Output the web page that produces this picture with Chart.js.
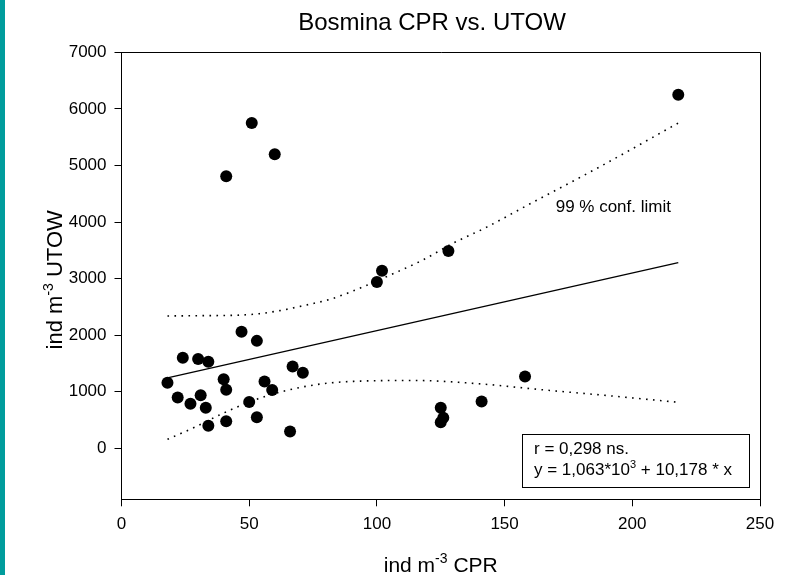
<!DOCTYPE html>
<html><head><meta charset="utf-8">
<script src="https://cdn.jsdelivr.net/npm/chart.js@4.4.0/dist/chart.umd.min.js"></script>
<style>
html,body{margin:0;padding:0;background:#fff;}
#wrap{position:relative;width:791px;height:575px;overflow:hidden;}
#strip{position:absolute;left:0;top:0;width:5px;height:575px;background:#009c9c;}
canvas{position:absolute;left:0;top:0;}
</style></head><body>
<div id="wrap"><canvas id="c" width="791" height="575"></canvas><div id="strip"></div></div>
<script>
// ---- data ----
const chartTitle = 'Bosmina CPR vs. UTOW';
const xTitleParts = ['ind m', '-3', ' CPR'];
const yTitleParts = ['ind m', '-3', ' UTOW'];
const cprValues  = [18, 22, 24, 27, 30, 31, 33, 34, 34, 40, 41, 41, 41, 47, 50, 51, 53, 53, 56, 59, 60, 66, 67, 71, 100, 102, 125, 125, 126, 128, 141, 158, 218];
const utowValues = [1160, 900, 1600, 790, 1580, 940, 720, 1530, 400, 1220, 1035, 480, 4810, 2060, 820, 5750, 1900, 550, 1180, 1030, 5200, 300, 1445, 1335, 2940, 3140, 720, 460, 540, 3490, 830, 1270, 6250];
const regLineX = [18, 218];
const regLineY = [1246, 3282];
const upperLimitX = [18, 31, 46, 54, 62, 71, 82, 90, 105, 118, 130, 143, 158, 187, 218];
const upperLimitY = [2340, 2345, 2355, 2380, 2435, 2520, 2640, 2770, 3060, 3330, 3630, 3910, 4275, 4970, 5750];
const lowerLimitX = [18, 28, 40, 53, 63, 76, 91, 115, 139, 165, 191, 218];
const lowerLimitY = [160, 360, 625, 870, 1005, 1125, 1185, 1200, 1145, 1035, 930, 815];
const xTickValues = [0, 50, 100, 150, 200, 250];
const yTickValues = [0, 1000, 2000, 3000, 4000, 5000, 6000, 7000];
const confLabel = '99 % conf. limit';
const statLine1 = 'r = 0,298 ns.';
const statLine2Parts = ['y = 1,063*10', '3', ' + 10,178 * x'];

const FONT = "'Liberation Sans', Arial, Helvetica, sans-serif";
const pts = (xs, ys) => xs.map((v, i) => ({x: v, y: ys[i]}));

function drawParts(ctx, parts, x, y, bigSize, smallSize, rise, align) {
  const widths = parts.map((p, i) => {
    ctx.font = (i === 1 ? smallSize : bigSize) + 'px ' + FONT;
    return ctx.measureText(p).width;
  });
  const total = widths.reduce((a, b) => a + b, 0);
  let cx = align === 'center' ? x - total / 2 : x;
  ctx.textAlign = 'left';
  ctx.textBaseline = 'alphabetic';
  parts.forEach((p, i) => {
    ctx.font = (i === 1 ? smallSize : bigSize) + 'px ' + FONT;
    ctx.fillText(p, cx, i === 1 ? y - rise : y);
    cx += widths[i];
  });
}

const decor = {
  id: 'decor',
  afterLayout(chart) {
    // centre the title over the same span as the reference
    if (chart.titleBlock) { chart.titleBlock.left = 104; }
  },
  afterDraw(chart) {
    const {ctx, chartArea: a, scales: {x, y}} = chart;
    ctx.save();
    ctx.strokeStyle = '#000';
    ctx.lineWidth = 1;
    // top and right frame of the plot box
    ctx.beginPath();
    ctx.moveTo(Math.round(a.left), Math.round(a.top) + 0.5);
    ctx.lineTo(Math.round(a.right) + 0.5, Math.round(a.top) + 0.5);
    ctx.lineTo(Math.round(a.right) + 0.5, Math.round(a.bottom));
    ctx.stroke();
    ctx.fillStyle = '#000';
    // axis titles
    drawParts(ctx, xTitleParts, (a.left + a.right) / 2, 571.5, 21, 14, 9, 'center');
    ctx.save();
    ctx.translate(62, (a.top + a.bottom) / 2 + 4);
    ctx.rotate(-Math.PI / 2);
    drawParts(ctx, yTitleParts, 0, 0, 22, 14, 9, 'center');
    ctx.restore();
    // conf. limit label
    ctx.font = '17px ' + FONT;
    ctx.textAlign = 'left';
    ctx.textBaseline = 'alphabetic';
    ctx.fillText(confLabel, x.getPixelForValue(170), y.getPixelForValue(4174));
    // stats box
    const bw = 227, bh = 53;
    const bx = Math.round(a.right - 10.7 - bw) + 0.5, by = Math.round(a.bottom - 12 - bh) + 0.5;
    ctx.fillStyle = '#fff';
    ctx.fillRect(bx, by, bw, bh);
    ctx.strokeRect(bx, by, bw, bh);
    ctx.fillStyle = '#000';
    ctx.font = '17px ' + FONT;
    ctx.fillText(statLine1, bx + 11.5, by + 19);
    drawParts(ctx, statLine2Parts, bx + 11.5, by + 40.5, 17, 11, 7, 'left');
    ctx.restore();
  }
};

const axisCommon = {
  type: 'linear',
  grid: {drawOnChartArea: false, drawTicks: true, tickLength: 7, color: '#000', lineWidth: 1},
  border: {display: true, color: '#000', width: 1},
  ticks: {color: '#000', font: {family: FONT, size: 17}, padding: 8, maxRotation: 0, autoSkip: false,
          callback: v => String(v)}
};

new Chart(document.getElementById('c'), {
  type: 'scatter',
  data: {
    datasets: [
      {label: 'data', data: pts(cprValues, utowValues), pointRadius: 6, pointHoverRadius: 6,
       backgroundColor: '#000', borderWidth: 0, showLine: false, order: 0},
      {label: 'regression', data: pts(regLineX, regLineY), showLine: true, pointRadius: 0,
       borderColor: '#000', borderWidth: 1.3, order: 1},
      {label: 'upper 99%', data: pts(upperLimitX, upperLimitY), showLine: true, pointRadius: 0,
       borderColor: '#000', borderWidth: 1.6, borderDash: [1.6, 5.4], cubicInterpolationMode: 'monotone', order: 2},
      {label: 'lower 99%', data: pts(lowerLimitX, lowerLimitY), showLine: true, pointRadius: 0,
       borderColor: '#000', borderWidth: 1.6, borderDash: [1.6, 5.4], cubicInterpolationMode: 'monotone', order: 3}
    ]
  },
  options: {
    responsive: false, animation: false, devicePixelRatio: 1,
    layout: {padding: {left: 0, right: 31, top: 0, bottom: 0}},
    plugins: {
      legend: {display: false}, tooltip: {enabled: false},
      title: {display: true, text: chartTitle, color: '#000', fullSize: true, align: 'center',
              font: {family: FONT, size: 24, weight: 'normal'}, padding: {top: 9, bottom: 14.5}}
    },
    scales: {
      x: Object.assign({}, axisCommon, {position: 'bottom', min: 0, max: 250,
        afterBuildTicks: s => { s.ticks = xTickValues.map(v => ({value: v})); },
        afterFit: s => { s.height = 75.7; }}),
      y: Object.assign({}, axisCommon, {position: 'left', min: -900, max: 7000,
        afterBuildTicks: s => { s.ticks = yTickValues.map(v => ({value: v})); },
        afterFit: s => { s.width = 121.5; }})
    }
  },
  plugins: [decor]
});
</script>
</body></html>
